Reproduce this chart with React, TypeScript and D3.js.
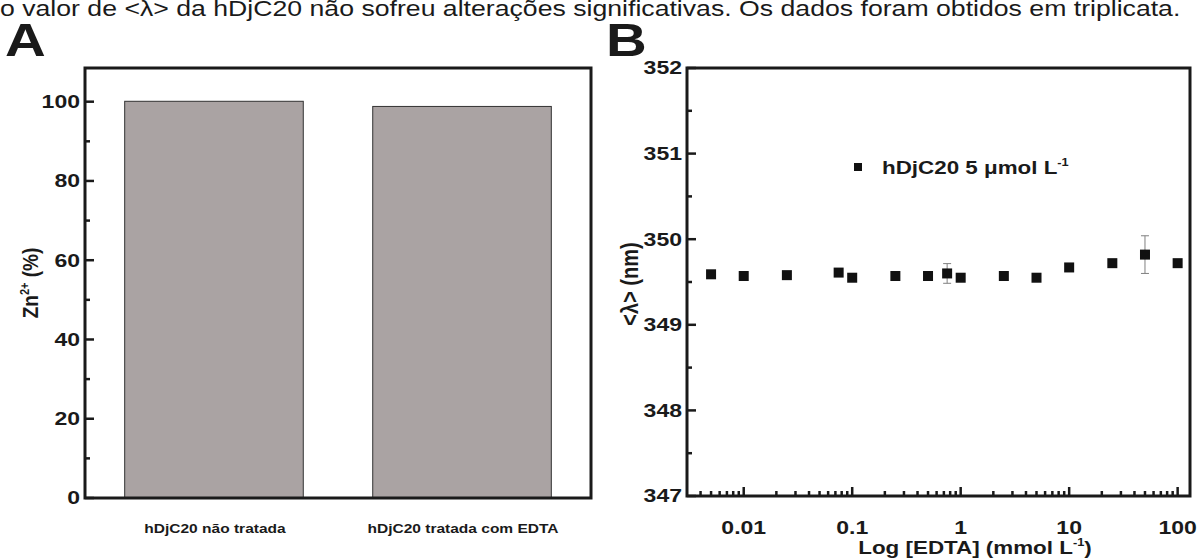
import React from "react";
import * as d3 from "d3";

// panel A
const categories = ["hDjC20 não tratada", "hDjC20 tratada com EDTA"];
const zincPct = [100.1, 98.8];
const yTicksA = [0, 20, 40, 60, 80, 100];

// panel B
const edta = [0.005, 0.01, 0.025, 0.075, 0.1, 0.25, 0.5, 0.75, 1, 2.5, 5, 10, 25, 50, 100];
const lambda = [349.59, 349.57, 349.58, 349.61, 349.55, 349.57, 349.57, 349.6, 349.55, 349.57, 349.55, 349.67, 349.72, 349.82, 349.72];
const lambdaErr = [0, 0, 0, 0.03, 0, 0, 0, 0.115, 0, 0, 0, 0, 0.02, 0.22, 0];
const yTicksB = [347, 348, 349, 350, 351, 352];
const xTicksB = [0.01, 0.1, 1, 10, 100];
const xTickLabelsB = ["0.01", "0.1", "1", "10", "100"];

const caption =
  "o valor de <λ> da hDjC20 não sofreu alterações significativas. Os dados foram obtidos em triplicata.";

const FONT = "'Liberation Sans', Arial, sans-serif";
const INK = "#1a1a1a";
const SX = 1.28; // the source figure is stretched sideways

type TProps = {
  x: number;
  y: number;
  size: number;
  anchor?: "start" | "middle" | "end";
  bold?: boolean;
  rotate?: boolean;
  sx?: number;
  dy?: string;
  children: React.ReactNode;
};

// text that copies the wide lettering of the source
const T = ({ x, y, size, anchor = "start", bold = true, rotate = false, sx = SX, dy, children }: TProps) => (
  <text
    transform={rotate ? `translate(${x},${y}) rotate(-90) scale(1,${sx})` : `translate(${x},${y}) scale(${sx},1)`}
    textAnchor={anchor}
    fontSize={size}
    fontWeight={bold ? "bold" : "normal"}
    fill={INK}
    dy={dy}
  >
    {children}
  </text>
);

export default function App() {
  // ---- panel A scales
  const xA = d3.scaleBand<string>().domain(categories).range([85, 591]).paddingInner(0.28).paddingOuter(0.16);
  const yA = d3.scaleLinear().domain([0, 108.5]).range([498, 68]);
  const minorA = d3.range(10, 100, 20);

  // ---- panel B scales
  const xB = d3.scaleLog().domain([0.003, 130]).range([687, 1190]);
  const yB = d3.scaleLinear().domain([347, 352]).range([496, 68]);
  const minorYB = d3.range(347.5, 352, 1);
  const minorXB: number[] = [];
  [0.001, 0.01, 0.1, 1, 10].forEach((dec) => {
    for (let k = 2; k <= 9; k++) {
      const v = dec * k;
      if (v > 0.0035 && v < 125) minorXB.push(v);
    }
  });

  const [a0, a1] = yA.range();
  const [bx0, bx1] = xB.range();
  const [by0, by1] = yB.range();

  return (
    <svg width={1201} height={560} style={{ position: "absolute", left: 0, top: 0, background: "#fff" }} fontFamily={FONT}>
      <rect width={1201} height={560} fill="#fff" />
      <T x={0} y={16} size={21.5} bold={false} sx={1.24}>{caption}</T>
      <T x={5} y={56} size={47} sx={1.2}>A</T>
      <T x={606} y={56} size={47} sx={1.2}>B</T>

      {/* ---------- panel A ---------- */}
      <g>
        {categories.map((c, i) => (
          <rect
            key={c}
            x={xA(c)}
            y={yA(zincPct[i])}
            width={xA.bandwidth()}
            height={yA(0) - yA(zincPct[i])}
            fill="#aaa3a3"
            stroke="#333"
            strokeWidth={1}
          />
        ))}
        {yTicksA.map((t) => (
          <g key={t}>
            <line x1={85} x2={94} y1={yA(t)} y2={yA(t)} stroke={INK} strokeWidth={2.5} />
            <T x={80} y={yA(t)} dy="0.36em" anchor="end" size={18}>{t}</T>
          </g>
        ))}
        {minorA.map((t) => (
          <line key={t} x1={85} x2={90} y1={yA(t)} y2={yA(t)} stroke={INK} strokeWidth={2.5} />
        ))}
        <rect x={85} y={a1} width={591 - 85} height={a0 - a1} fill="none" stroke={INK} strokeWidth={3} />
        {categories.map((c) => (
          <T key={c} x={(xA(c) ?? 0) + xA.bandwidth() / 2 + 1} y={533} anchor="middle" size={13.5} sx={1.15}>
            {c}
          </T>
        ))}
        <T x={38} y={(a0 + a1) / 2} anchor="middle" size={19} rotate sx={1.15}>
          Zn<tspan dy={-8} fontSize={11}>2+</tspan>
          <tspan dy={8}> (%)</tspan>
        </T>
      </g>

      {/* ---------- panel B ---------- */}
      <g>
        {yTicksB.map((t) => (
          <g key={t}>
            <line x1={bx0} x2={bx0 + 9} y1={yB(t)} y2={yB(t)} stroke={INK} strokeWidth={2.5} />
            <T x={682} y={yB(t)} dy="0.36em" anchor="end" size={18}>{t}</T>
          </g>
        ))}
        {minorYB.map((t) => (
          <line key={t} x1={bx0} x2={bx0 + 5} y1={yB(t)} y2={yB(t)} stroke={INK} strokeWidth={2.5} />
        ))}
        {xTicksB.map((t, i) => (
          <g key={t}>
            <line x1={xB(t)} x2={xB(t)} y1={by0} y2={by0 - 9} stroke={INK} strokeWidth={2.5} />
            <T x={xB(t)} y={534} anchor="middle" size={18}>{xTickLabelsB[i]}</T>
          </g>
        ))}
        {minorXB.map((t) => (
          <line key={t} x1={xB(t)} x2={xB(t)} y1={by0} y2={by0 - 5} stroke={INK} strokeWidth={2.5} />
        ))}
        <rect x={bx0} y={by1} width={bx1 - bx0} height={by0 - by1} fill="none" stroke={INK} strokeWidth={3} />

        {edta.map((c, i) =>
          lambdaErr[i] > 0 ? (
            <g key={"e" + c} stroke="#808080" strokeWidth={1}>
              <line x1={xB(c)} x2={xB(c)} y1={yB(lambda[i] - lambdaErr[i])} y2={yB(lambda[i] + lambdaErr[i])} />
              <line x1={xB(c) - 4} x2={xB(c) + 4} y1={yB(lambda[i] - lambdaErr[i])} y2={yB(lambda[i] - lambdaErr[i])} />
              <line x1={xB(c) - 4} x2={xB(c) + 4} y1={yB(lambda[i] + lambdaErr[i])} y2={yB(lambda[i] + lambdaErr[i])} />
            </g>
          ) : null
        )}
        {edta.map((c, i) => (
          <rect key={c} x={xB(c) - 5} y={yB(lambda[i]) - 5} width={10} height={10} fill="#111" />
        ))}

        {/* legend */}
        <rect x={854} y={163} width={8} height={8} fill="#111" />
        <T x={882} y={174} size={17.5}>
          hDjC20 5 μmol L<tspan dy={-8} fontSize={10}>-1</tspan>
        </T>

        <T x={975} y={554} anchor="middle" size={17.5}>
          Log [EDTA] (mmol L<tspan dy={-8} fontSize={10}>-1</tspan>
          <tspan dy={8}>)</tspan>
        </T>
        <T x={638} y={(by0 + by1) / 2 + 2} anchor="middle" size={20} rotate sx={1.15}>
          &lt;λ&gt; (nm)
        </T>
      </g>
    </svg>
  );
}
